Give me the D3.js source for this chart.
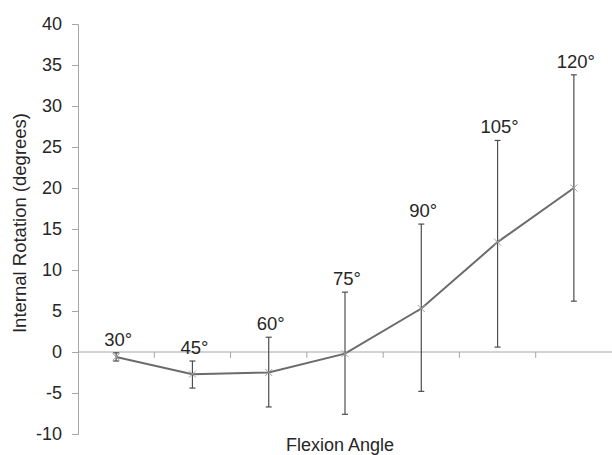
<!DOCTYPE html>
<html>
<head>
<meta charset="utf-8">
<script src="https://cdnjs.cloudflare.com/ajax/libs/d3/7.8.5/d3.min.js"></script>
<style>
	body { margin: 0; background: #fff; }
	text { font-family: "Liberation Sans", Arial, sans-serif; fill: #262626; }
</style>
</head>
<body>
<script>
(function(){

	//data
	var angles = ["30°", "45°", "60°", "75°", "90°", "105°", "120°"];
	var means = [-0.6, -2.7, -2.5, -0.2, 5.3, 13.4, 20.0];
	var upper = [-0.1, -1.1, 1.8, 7.3, 15.6, 25.8, 33.8];
	var lower = [-1.1, -4.4, -6.7, -7.6, -4.8, 0.6, 6.2];
	var yTicks = [40, 35, 30, 25, 20, 15, 10, 5, 0, -5, -10];

	//frame
	var width = 612,
		height = 455,
		left = 78,
		right = 612,
		top = 24,
		bottom = 434;

	var svg = d3.select("body")
		.append("svg")
		.attr("width", width)
		.attr("height", height);

	//scales
	var x = d3.scaleBand()
		.domain(angles)
		.range([left, right]);

	var y = d3.scaleLinear()
		.domain([-10, 40])
		.range([bottom, top]);

	//y axis (plain hyphen for negatives, as in the figure)
	var yAxis = d3.axisLeft(y)
		.tickValues(yTicks)
		.tickSize(6)
		.tickPadding(10)
		.tickFormat(function(d){ return String(d); });

	var gy = svg.append("g")
		.attr("transform", "translate(" + left + ",0)")
		.call(yAxis);
	gy.select(".domain").attr("stroke", "#a6a6a6").attr("stroke-width", 1);
	gy.selectAll(".tick line").attr("stroke", "#a6a6a6");
	gy.selectAll(".tick text")
		.style("font-size", "18px")
		.attr("fill", "#262626");

	//x axis along zero with category ticks
	var gx = svg.append("g")
		.attr("transform", "translate(0," + y(0) + ")");
	gx.append("line")
		.attr("x1", left)
		.attr("x2", right)
		.attr("stroke", "#a6a6a6");
	gx.selectAll(".xtick")
		.data(angles.slice(1))
		.enter()
		.append("line")
		.attr("class", "xtick")
		.attr("x1", function(d){ return x(d); })
		.attr("x2", function(d){ return x(d); })
		.attr("y1", 0)
		.attr("y2", 6)
		.attr("stroke", "#a6a6a6");

	var cx = function(i){ return x(angles[i]) + x.bandwidth() / 2; };

	//error bars
	var err = svg.selectAll(".err")
		.data(angles)
		.enter()
		.append("g")
		.attr("class", "err");
	err.append("line")
		.attr("x1", function(d, i){ return cx(i); })
		.attr("x2", function(d, i){ return cx(i); })
		.attr("y1", function(d, i){ return y(upper[i]); })
		.attr("y2", function(d, i){ return y(lower[i]); })
		.attr("stroke", "#4d4d4d")
		.attr("stroke-width", 1.2);
	[upper, lower].forEach(function(arr){
		err.append("line")
			.attr("x1", function(d, i){ return cx(i) - 3; })
			.attr("x2", function(d, i){ return cx(i) + 3; })
			.attr("y1", function(d, i){ return y(arr[i]); })
			.attr("y2", function(d, i){ return y(arr[i]); })
			.attr("stroke", "#4d4d4d")
			.attr("stroke-width", 1.2);
	});

	//mean line
	var line = d3.line()
		.x(function(d, i){ return cx(i); })
		.y(function(d){ return y(d); });

	svg.append("path")
		.datum(means)
		.attr("d", line)
		.attr("fill", "none")
		.attr("stroke", "#6b6b6b")
		.attr("stroke-width", 2);

	//x markers
	svg.selectAll(".mark")
		.data(means)
		.enter()
		.append("path")
		.attr("class", "mark")
		.attr("d", function(d, i){
			var px = cx(i), py = y(d), s = 3.5;
			return "M" + (px - s) + "," + (py - s) + "L" + (px + s) + "," + (py + s) +
				"M" + (px - s) + "," + (py + s) + "L" + (px + s) + "," + (py - s);
		})
		.attr("stroke", "#a0a0a0")
		.attr("stroke-width", 1);

	//angle labels above the whiskers
	svg.selectAll(".lbl")
		.data(angles)
		.enter()
		.append("text")
		.attr("class", "lbl")
		.attr("x", function(d, i){ return cx(i) + 2; })
		.attr("y", function(d, i){ return y(upper[i]) - 7; })
		.attr("text-anchor", "middle")
		.style("font-size", "18.5px")
		.text(function(d){ return d; });

	//axis titles
	svg.append("text")
		.attr("x", 340)
		.attr("y", 451)
		.attr("text-anchor", "middle")
		.style("font-size", "18px")
		.text("Flexion Angle");

	svg.append("text")
		.attr("transform", "translate(26,223) rotate(-90)")
		.attr("text-anchor", "middle")
		.style("font-size", "18.5px")
		.text("Internal Rotation (degrees)");

})();
</script>
</body>
</html>
